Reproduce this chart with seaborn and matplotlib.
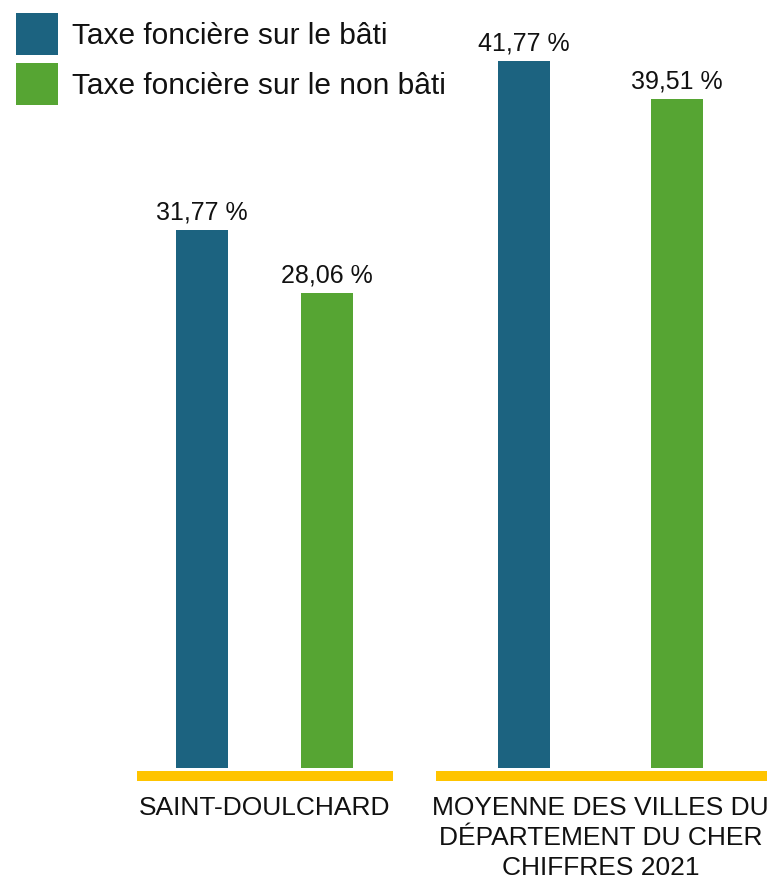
import pandas as pd
import seaborn as sns
import matplotlib.pyplot as plt

groupes = ["SAINT-DOULCHARD", "MOYENNE DES VILLES DU\nDÉPARTEMENT DU CHER\nCHIFFRES 2021"]
taxes = ["Taxe foncière sur le bâti", "Taxe foncière sur le non bâti"]
bati = [31.77, 41.77]
non_bati = [28.06, 39.51]

couleurs = ["#1c6380", "#56a533"]
jaune = "#ffc400"

df = pd.DataFrame({
    "groupe": groupes * 2,
    "taxe": [taxes[0]] * 2 + [taxes[1]] * 2,
    "taux": bati + non_bati,
})

sns.set_style("white")
plt.rcParams["font.family"] = ["Liberation Sans", "DejaVu Sans"]
plt.rcParams["text.color"] = "#111111"

fig = plt.figure(figsize=(7.83, 8.81), dpi=100)
ax = fig.add_axes([0, 0.1283, 1, 0.8717])

# écart entre les barres différent selon le groupe
largeurs = [(0.744, 0.583), (0.908, 0.659)]
for i, g in enumerate(groupes):
    sns.barplot(data=df[df["groupe"] == g], x="groupe", y="taux", hue="taxe",
                order=groupes, hue_order=taxes, palette=couleurs,
                width=largeurs[i][0], gap=largeurs[i][1], saturation=1,
                linewidth=0, legend=(i == 0), ax=ax)

ax.set_xlim(-0.787, 1.543)
ax.set_ylim(0, 45.36)

for c in ax.containers:
    ax.bar_label(c, labels=[f"{v:.2f}".replace(".", ",") + " %" for v in c.datavalues],
                 padding=4, fontsize=18, color="#111111")

# lignes jaunes sous chaque groupe
for x0, x1 in [(-0.379, 0.382), (0.51, 1.496)]:
    ax.plot([x0, x1], [-0.47, -0.47], color=jaune, lw=7.2,
            solid_capstyle="butt", clip_on=False)

sns.despine(ax=ax, left=True, bottom=True)
ax.set_yticks([])
ax.set_xlabel("")
ax.set_ylabel("")
ax.tick_params(axis="x", length=0, pad=20.5, labelsize=19, labelcolor="#111111")
for t in ax.get_xticklabels():
    t.set_linespacing(1.3)

sns.move_legend(ax, loc="upper left", bbox_to_anchor=(0.0204, 0.9852),
                bbox_transform=fig.transFigure, frameon=False, title=None,
                fontsize=21.5, handlelength=1.406, handleheight=1.785,
                labelspacing=0.27, handletextpad=0.48, borderpad=0,
                borderaxespad=0, labelcolor="#111111")

fig.savefig("out.png", dpi=100)
